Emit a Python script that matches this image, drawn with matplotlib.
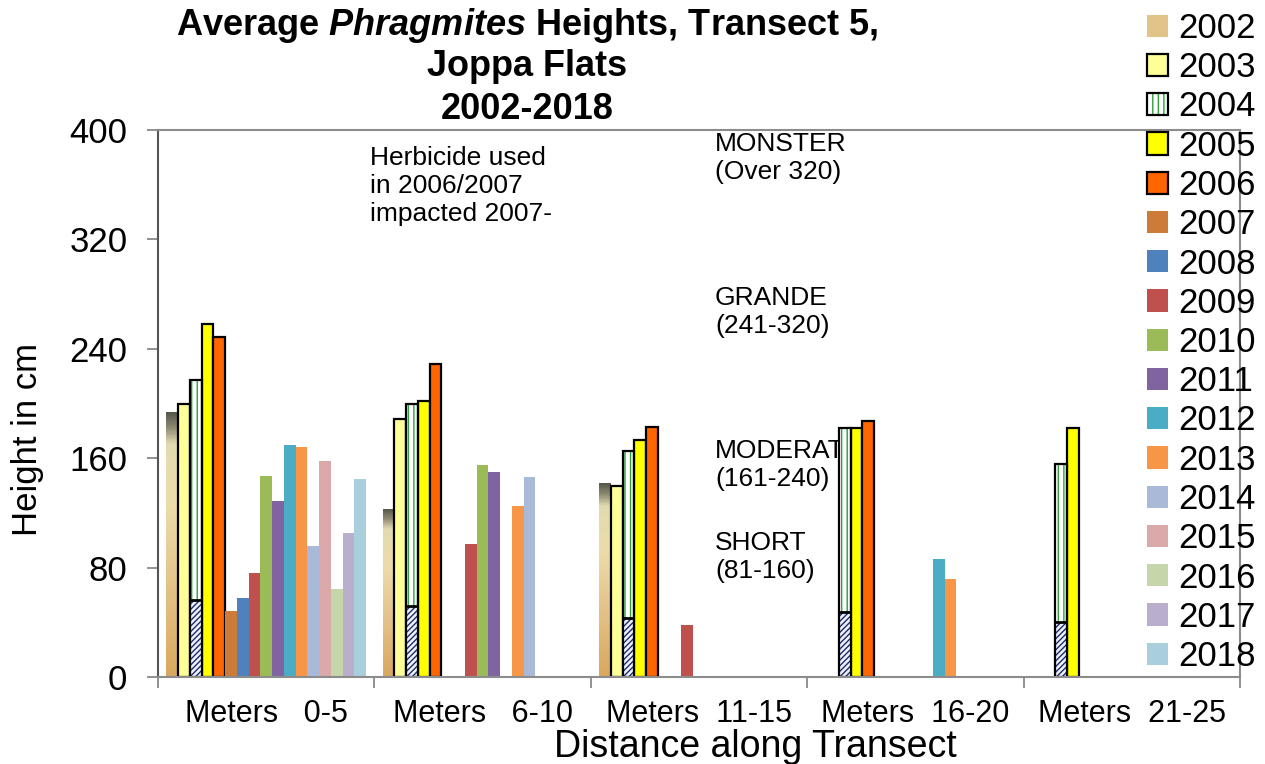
import numpy as np
import matplotlib
matplotlib.use("Agg")
import matplotlib.pyplot as plt
import matplotlib.patches as mpatches
from matplotlib.colors import LinearSegmentedColormap
from matplotlib.legend_handler import HandlerTuple

plt.rcParams['font.family'] = ['Liberation Sans', 'DejaVu Sans']
plt.rcParams['mathtext.fontset'] = 'custom'
plt.rcParams['mathtext.it'] = 'Liberation Sans:italic:bold'
plt.rcParams['hatch.linewidth'] = 1.0

# datos
groups = ["Meters   0-5", "Meters   6-10", "Meters  11-15", "Meters  16-20", "Meters  21-25"]
years = ["2002", "2003", "2004", "2005", "2006", "2007", "2008", "2009", "2010",
         "2011", "2012", "2013", "2014", "2015", "2016", "2017", "2018"]

h2002 = [194, 123, 142, None, None]
h2003 = [200, 189, 140, None, None]
h2004 = [217, 200, 165, 182, 156]
h2005 = [258, 202, 173, 182, 182]
h2006 = [249, 229, 183, 187, None]
h2007 = [48, None, None, None, None]
h2008 = [58, None, None, None, None]
h2009 = [76, 97, 38, None, None]
h2010 = [147, 155, None, None, None]
h2011 = [129, 150, None, None, None]
h2012 = [170, None, None, 86, None]
h2013 = [168, 125, None, 72, None]
h2014 = [96, 146, None, None, None]
h2015 = [158, None, None, None, None]
h2016 = [64, None, None, None, None]
h2017 = [105, None, None, None, None]
h2018 = [145, None, None, None, None]

series = [h2002, h2003, h2004, h2005, h2006, h2007, h2008, h2009, h2010,
          h2011, h2012, h2013, h2014, h2015, h2016, h2017, h2018]

colors = {"2002": "#e2c48a", "2003": "#ffff99", "2004": "white", "2005": "#ffff00",
          "2006": "#ff6600", "2007": "#cc7b38", "2008": "#4f81bd", "2009": "#c0504d",
          "2010": "#9bbb59", "2011": "#8064a2", "2012": "#4bacc6", "2013": "#f79646",
          "2014": "#a9b9d8", "2015": "#dba9a9", "2016": "#c6d6ab", "2017": "#b9aecb",
          "2018": "#a9cfdc"}
edged = ["2003", "2004", "2005", "2006"]

# relleno tipo foto para 2002
grass = LinearSegmentedColormap.from_list(
    "grass", [(0.0, "#d9a85e"), (0.35, "#e3c38a"), (0.65, "#ecdcaa"),
              (0.88, "#e2dbb0"), (0.94, "#8f8b72"), (1.0, "#55554a")])
grad = np.linspace(0, 1, 200).reshape(-1, 1)

# crear gráfica
fig = plt.figure(figsize=(12.65, 7.64), dpi=100)
ax = fig.add_axes([0.1249, 0.1139, 0.8553, 0.7159])

x = np.arange(len(groups))
w = 0.0543
for j, (yr, vals) in enumerate(zip(years, series)):
    v = np.array([np.nan if a is None else a for a in vals], dtype=float)
    ok = ~np.isnan(v)
    xs = x[ok] + (j - 8) * w
    hs = v[ok]
    if yr == "2002":
        bars = ax.bar(xs, hs, w, color="none", linewidth=0, zorder=2)
        for b in bars:
            im = ax.imshow(grad, cmap=grass, origin="lower", aspect="auto",
                           extent=[b.get_x(), b.get_x() + b.get_width(), 0, b.get_height()],
                           zorder=2)
            im.set_clip_path(b)
    elif yr == "2004":
        ax.bar(xs, hs, w, color="white", edgecolor="#2f9e3a", hatch="|||", linewidth=0, zorder=2)
        ax.bar(xs, hs * 0.26, w, color="#eef0fa", edgecolor="#1f2a6b", hatch="//////",
               linewidth=0, zorder=2.1)
        ax.bar(xs, hs, w, color="none", edgecolor="black", linewidth=1.6, zorder=2.2)
        ax.hlines(hs * 0.26, xs - w / 2, xs + w / 2, color="black", linewidth=2, zorder=2.2)
    elif yr in edged:
        ax.bar(xs, hs, w, color=colors[yr], edgecolor="black", linewidth=1.6, zorder=2)
    else:
        ax.bar(xs, hs, w, color=colors[yr], linewidth=0, zorder=2)

ax.set_xlim(-0.5, 4.5)
ax.set_ylim(0, 400)
ax.set_yticks(range(0, 401, 80))
ax.set_xticks(x)
ax.set_xticklabels(groups)
ax.set_xticks(np.arange(-0.5, 4.6, 1), minor=True)
ax.tick_params(axis="y", length=8, width=1.2, color="#7f7f7f", pad=14, labelsize=25)
ax.tick_params(axis="x", which="major", length=0, pad=16, labelsize=22)
ax.tick_params(axis="x", which="minor", length=8, width=1.2, color="#7f7f7f")
for s in ax.spines.values():
    s.set_color("#8c8c8c")
    s.set_linewidth(1.5)
ax.spines["left"].set_color("#555555")

# textos
kw = dict(transform=fig.transFigure, fontsize=19, linespacing=1.2, zorder=1, va="center")
ax.text(370 / 1265, 1 - 186 / 764, "Herbicide used\nin 2006/2007\nimpacted 2007-", **kw)
ax.text(715 / 1265, 1 - 158 / 764, "MONSTER\n(Over 320)", **kw)
ax.text(715 / 1265, 1 - 312 / 764, "GRANDE\n(241-320)", **kw)
ax.text(715 / 1265, 1 - 465 / 764, "MODERATE\n(161-240)", **kw)
ax.text(715 / 1265, 1 - 557 / 764, "SHORT\n(81-160)", **kw)

fig.text(527 / 1265, 1 - 35 / 764, r"Average $\mathit{Phragmites}$ Heights, Transect 5,",
         ha="center", va="baseline", fontsize=26, fontweight="bold")
fig.text(527 / 1265, 1 - 76 / 764, "Joppa Flats", ha="center", va="baseline",
         fontsize=26, fontweight="bold")
fig.text(527 / 1265, 1 - 119 / 764, "2002-2018", ha="center", va="baseline",
         fontsize=26, fontweight="bold")

fig.text(28 / 1265, 1 - 440 / 764, "Height in cm", rotation=90, ha="center", va="center",
         fontsize=25)
fig.text(755 / 1265, 1 - 757 / 764, "Distance along Transect", ha="center", va="baseline",
         fontsize=27)

# leyenda
handles = []
for yr in years:
    if yr == "2004":
        handles.append((mpatches.Patch(facecolor="white", edgecolor="#2f9e3a", hatch="|||", linewidth=0),
                        mpatches.Patch(facecolor="none", edgecolor="black", linewidth=1.6)))
    elif yr in edged:
        handles.append(mpatches.Patch(facecolor=colors[yr], edgecolor="black", linewidth=1.6))
    else:
        handles.append(mpatches.Patch(facecolor=colors[yr], linewidth=0))
fig.legend(handles, years, loc="upper left", bbox_to_anchor=(1147 / 1265, 1 - 12 / 764),
           frameon=False, fontsize=25, handlelength=0.6, handleheight=0.6,
           handletextpad=0.3, labelspacing=0.18, borderpad=0, borderaxespad=0,
           handler_map={tuple: HandlerTuple(ndivide=1, pad=0)})

# guardar gráfica
fig.savefig("out.png", dpi=100)
plt.close(fig)
